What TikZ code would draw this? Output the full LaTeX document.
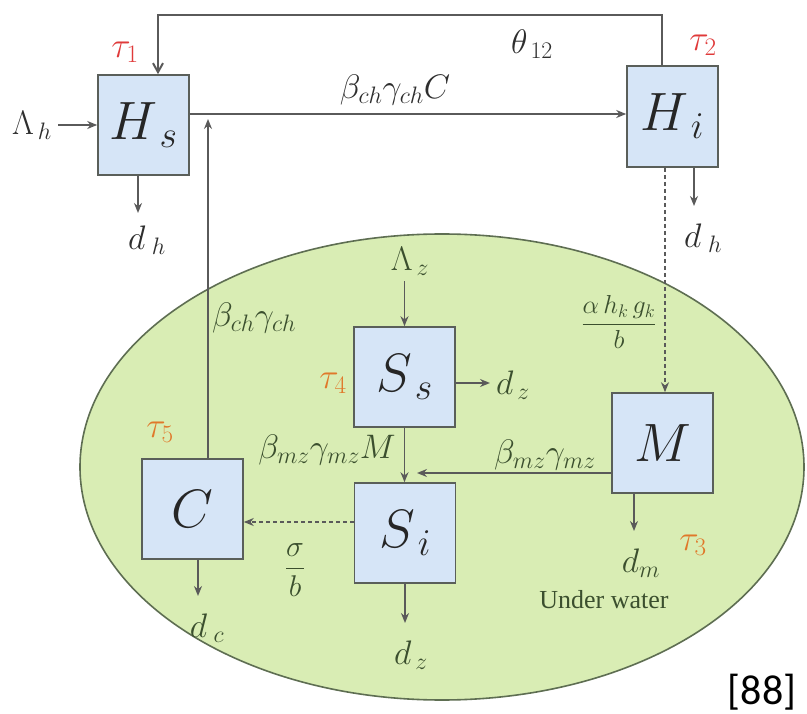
\RequirePackage{fix-cm}
\documentclass[tikz,border=0pt]{standalone}
\usepackage{amsmath}
\usepackage{fontspec}
\usetikzlibrary{arrows.meta}
\newfontfamily\refsans{Carlito}
\newfontfamily\tnr{Liberation Serif}
\definecolor{boxfill}{HTML}{D6E5F7}
\definecolor{boxline}{HTML}{5A5F5A}
\definecolor{lineg}{HTML}{5A5A5A}
\definecolor{ellfill}{HTML}{D9EDB4}
\definecolor{ellline}{HTML}{5E6E52}
\definecolor{labc}{HTML}{2E2E2E}
\definecolor{inlab}{HTML}{3B4F2E}
\definecolor{taured}{HTML}{E03A3A}
\definecolor{tauor}{HTML}{E0782A}
\begin{document}
\begin{tikzpicture}[x=1pt,y=-1pt,
  box/.style={draw=boxline, fill=boxfill, line width=1.6pt, minimum width=101pt, minimum height=100pt, inner sep=0pt, text=black!85, font=\fontsize{54}{54}\selectfont},
  flow/.style={draw=lineg, line width=1.5pt, -{Stealth[length=10pt,width=8pt]}},
  dflow/.style={flow, dashed, dash pattern=on 4pt off 3pt},
  lab/.style={text=labc, font=\fontsize{34}{34}\selectfont, inner sep=0pt},
  ilab/.style={text=inlab, font=\fontsize{34}{34}\selectfont, inner sep=0pt},
  flab/.style={text=inlab, font=\fontsize{26}{26}\selectfont, inner sep=0pt},
  tauR/.style={text=taured, font=\fontsize{36}{36}\selectfont, inner sep=0pt},
  tauO/.style={text=tauor, font=\fontsize{36}{36}\selectfont, inner sep=0pt}]
\useasboundingbox (0,0) rectangle (807,714);
\fill[white] (0,0) rectangle (807,714);
% under water region
\draw[fill=ellfill, draw=ellline, line width=1.6pt] (442,467) ellipse [x radius=362, y radius=233];

% boxes
\node[box, minimum width=91pt] (Hs) at (143.5,125) {$H_{\,s}$};
\node[box, minimum width=91pt, minimum height=101pt] (Hi) at (672.5,116.5) {$H_{\,i}$};
\node[box] (Ss) at (404.5,377) {$S_{\,s}$};
\node[box] (Si) at (405,533) {$S_{\,i}$};
\node[box] (M) at (662.5,443) {$M$};
\node[box] (C) at (192.5,509) {$C$};

% taus
\node[tauR] (t1) at (125,52) {$\tau_1$};
\node[tauR] (t2) at (703,45) {$\tau_2$};
\node[tauO] (t3) at (693,545) {$\tau_3$};
\node[tauO] (t4) at (333,383) {$\tau_4$};
\node[tauO] (t5) at (160,432) {$\tau_5$};

% top feedback loop
\coordinate (fbR) at (662,15);
\coordinate (fbL) at (158,15);
\draw[flow, line width=2pt, -{Straight Barb[length=9pt,width=10pt]}] (Hi.north -| fbR) -- (fbR) -- (fbL) -- (fbL |- Hs.north);
\node[lab] (th) at (532,44) {$\theta_{\,12}$};

% Lambda_h
\node[lab] (Lh) at (32,125) {$\Lambda_{\,h}$};
\draw[flow] (Lh.east) ++(6,0) coordinate (lhs) -- (lhs -| Hs.west);

% Hs -> Hi
\coordinate (hh) at (300,114);
\draw[flow, line width=2pt] (Hs.east |- hh) -- (Hi.west |- hh);
\node[lab] (bcC) at (395,90) {$\beta_{ch}\gamma_{ch}C$};

% C up
\coordinate (cup) at (208,119);
\draw[flow] (C.north -| cup) -- (cup);
\node[ilab] (bc) at (254,318) {$\beta_{ch}\gamma_{ch}$};

% d_h under Hs
\coordinate (dh1e) at (138,213);
\draw[flow] (Hs.south -| dh1e) -- (dh1e);
\node[lab] (dh1) at (147,240) {$d_{\;h}$};

% Hi dashed to M
\coordinate (hm) at (665,300);
\draw[dflow] (Hi.south -| hm) -- (M.north -| hm);
\node[flab] (frac) at (619,322) {$\dfrac{\alpha\, h_k\, g_k}{b}$};

% d_h under Hi
\coordinate (dh2e) at (694,206);
\draw[flow] (Hi.south -| dh2e) -- (dh2e);
\node[lab] (dh2) at (703,238) {$d_{\;h}$};

% Lambda_z
\node[ilab] (Lz) at (410,261) {$\Lambda_{\,z}$};
\draw[flow] (Lz.south -| Ss.north) ++(0,6) -- (Ss.north);

% Ss -> d_z
\coordinate (dze) at (490,383);
\draw[flow] (Ss.east |- dze) -- (dze);
\node[ilab] (dz1) at (513,385) {$d_{\,z}$};

% Ss -> Si
\draw[flow] (Ss.south) -- (Si.north -| Ss.south);
\node[ilab] (bmM) at (327,450) {$\beta_{mz}\gamma_{mz}M$};

% M -> Si
\coordinate (mse) at (417,473);
\draw[flow] (M.west |- mse) -- (mse);
\node[ilab] (bm) at (545,455) {$\beta_{mz}\gamma_{mz}$};

% Si -> C dashed
\coordinate (sic) at (300,522);
\draw[dflow] (Si.west |- sic) -- (C.east |- sic);
\node[flab, font=\fontsize{30}{30}\selectfont] (sb) at (295,570) {$\dfrac{\sigma}{b}$};

% d_c
\coordinate (dce) at (198,596);
\draw[flow] (C.south -| dce) -- (dce);
\node[ilab] (dc) at (207,628) {$d_{\;c}$};

% d_z under Si
\coordinate (dz2e) at (405,623);
\draw[flow] (Si.south -| dz2e) -- (dz2e);
\node[ilab] (dz2) at (411,655) {$d_{\,z}$};

% d_m
\coordinate (dme) at (634,531);
\draw[flow] (M.south -| dme) -- (dme);
\node[ilab] (dm) at (641,563) {$d_{m}$};

\node[text=inlab, font=\tnr\fontsize{26}{26}\selectfont, inner sep=0pt] (uw) at (604,600) {Under water};
\node[text=black, font=\refsans\fontsize{42}{42}\selectfont, inner sep=0pt] (ref) at (762,692) {[88]};
\end{tikzpicture}
\end{document}
